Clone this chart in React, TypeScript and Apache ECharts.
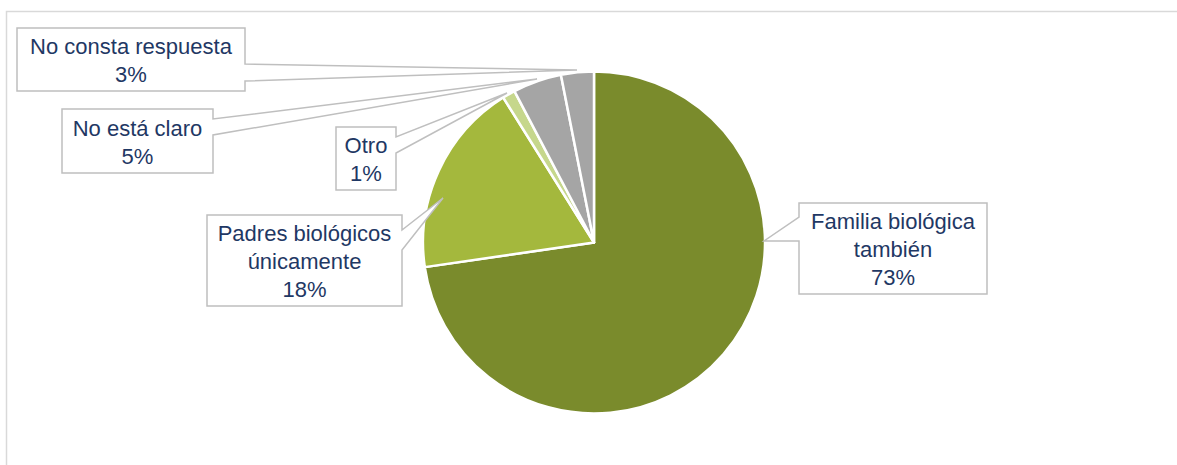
import React, { useEffect, useRef } from "react";
import * as echarts from "echarts";

const categories = [
  "Familia biológica\ntambién",
  "Padres biológicos\núnicamente",
  "Otro",
  "No está claro",
  "No consta respuesta",
];
const values = [72.7, 18.4, 1.2, 4.6, 3.1];
const colors = ["#7A8B2C", "#A4B83D", "#C6D78C", "#A5A5A5", "#A5A5A5"];

// Callout layout (annotation boxes): box [x1,y1,x2,y2], side of the pointer, gap on that side, tip point
const callouts = [
  { box: [799, 203, 987, 294], side: "left", gap: [217, 241], tip: [764, 241] },
  { box: [207, 215, 402, 306], side: "right", gap: [230, 250], tip: [443, 198] },
  { box: [336, 127, 396, 190], side: "right", gap: [137, 153], tip: [507, 93] },
  { box: [62, 109, 213, 173], side: "right", gap: [119, 135], tip: [537, 79] },
  { box: [17, 28, 245, 91], side: "right", gap: [64, 81], tip: [577, 70] },
];

export default function App() {
  const ref = useRef<HTMLDivElement>(null);
  useEffect(() => {
    if (!ref.current) return;
    const chart = echarts.init(ref.current, undefined, { renderer: "svg" });
    const total = values.reduce((a, b) => a + b, 0);
    const graphics: any[] = [
      {
        type: "rect",
        shape: { x: 6.5, y: 11.5, width: 1400, height: 700 },
        style: { fill: "none", stroke: "#D9D9D9", lineWidth: 1.5 },
        z: 0,
        silent: true,
      },
    ];
    callouts.forEach((c, i) => {
      const [x1, y1, x2, y2] = c.box;
      const [g0, g1] = c.gap;
      const pts =
        c.side === "right"
          ? [[x1, y1], [x2, y1], [x2, g0], c.tip, [x2, g1], [x2, y2], [x1, y2]]
          : [[x1, y1], [x2, y1], [x2, y2], [x1, y2], [x1, g1], c.tip, [x1, g0]];
      graphics.push({
        type: "polygon",
        shape: { points: pts },
        style: { fill: "#FFFFFF", stroke: "#BFBFBF", lineWidth: 1.5 },
        z: 100,
      });
      const pct = Math.round((values[i] / total) * 100) + "%";
      graphics.push({
        type: "text",
        x: (x1 + x2) / 2,
        y: (y1 + y2) / 2 + 1,
        z: 101,
        style: {
          text: categories[i] + "\n" + pct,
          fill: "#1F3864",
          fontSize: 22,
          fontFamily: '"Liberation Sans", Arial, sans-serif',
          lineHeight: 28,
          align: "center",
          verticalAlign: "middle",
          textAlign: "center",
          textVerticalAlign: "middle",
        },
      });
    });
    chart.setOption({
      animation: false,
      backgroundColor: "#FFFFFF",
      graphic: graphics,
      series: [
        {
          type: "pie",
          center: [594, 242.5],
          radius: 171,
          startAngle: 90,
          clockwise: true,
          label: { show: false },
          labelLine: { show: false },
          itemStyle: { borderColor: "#FFFFFF", borderWidth: 2.5 },
          data: categories.map((name, i) => ({
            name,
            value: values[i],
            itemStyle: { color: colors[i] },
          })),
        },
      ],
    });
    return () => chart.dispose();
  }, []);
  return (
    <div
      ref={ref}
      style={{ position: "absolute", left: 0, top: 0, width: 1177, height: 465 }}
    />
  );
}
